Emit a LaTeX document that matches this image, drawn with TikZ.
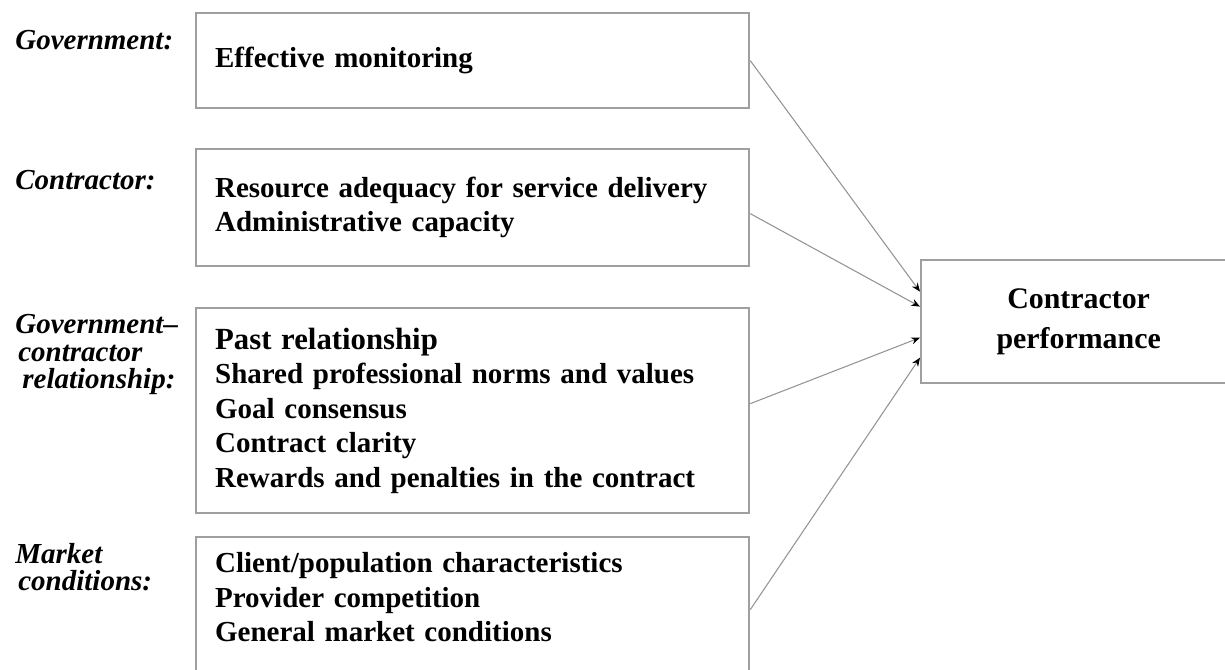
\documentclass[tikz,border=0pt]{standalone}
\usepackage{fontspec}
\setmainfont{Liberation Serif}
\usetikzlibrary{arrows.meta}
\tikzset{
  factorbox/.style={draw=gray!75, line width=1.3pt, anchor=north west, minimum width=11.06cm,
    text width=10.3cm, inner xsep=0.36cm, align=left, font=\fontsize{16.5}{19.6}\selectfont\bfseries},
  grouplabel/.style={anchor=west, align=left, inner sep=0pt, font=\fontsize{16.5}{15.6}\selectfont\bfseries\itshape},
  link/.style={draw=gray!85, line width=0.6pt, -{Stealth[length=5pt,width=4pt,black]}}
}
\begin{document}
\begin{tikzpicture}
      \useasboundingbox (0,0) rectangle (24.5,-13.38);
      \node[grouplabel] (Lgov) at (0.3,-0.8) {Government:};
      \node[grouplabel] (Lcon) at (0.3,-3.6) {Contractor:};
      \node[grouplabel] (Lrel) at (0.3,-7.09) {Government--\\\hspace{0.06cm}contractor\\\hspace{0.14cm}relationship:};
      \node[grouplabel] (Lmkt) at (0.3,-11.34) {Market\\\hspace{0.06cm}conditions:};
      \node[factorbox, minimum height=1.9cm] (Bgov) at (3.9,-0.24) {Effective monitoring};
      \node[factorbox, minimum height=2.34cm] (Bcon) at (3.9,-2.96) {Resource adequacy for service delivery\\Administrative capacity};
      \node[factorbox, minimum height=4.1cm] (Brel) at (3.9,-6.14) {{\fontsize{17.5}{19.6}\selectfont Past relationship}\\Shared professional norms and values\\Goal consensus\\Contract clarity\\Rewards and penalties in the contract};
      \node[factorbox, minimum height=2.9cm] (Bmkt) at (3.9,-10.72) {Client/population characteristics\\Provider competition\\General market conditions\rule[-0.5cm]{0pt}{0pt}};
      \node[draw=gray!75, line width=1.3pt, anchor=north west, minimum width=6.3cm, minimum height=2.46cm,
        align=center, font=\fontsize{17}{22.7}\selectfont\bfseries] (Perf) at (18.4,-5.18) {Contractor\\performance};
      \draw[link] (Bgov.east) -- ([yshift=0.6cm]Perf.west);
      \draw[link] ([yshift=-0.12cm]Bcon.east) -- ([yshift=0.3cm]Perf.west);
      \draw[link] ([yshift=0.14cm]Brel.east) -- ([yshift=-0.32cm]Perf.west);
      \draw[link] (Bmkt.east) -- ([yshift=-0.72cm]Perf.west);
   \end{tikzpicture}
\end{document}
